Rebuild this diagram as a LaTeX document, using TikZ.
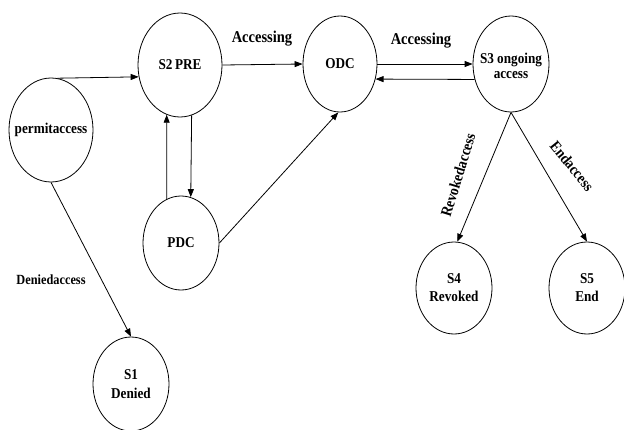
\documentclass[tikz,border=0pt]{standalone}
\usepackage{fontspec}
\setmainfont{Liberation Serif}[FakeStretch=0.88]
\usetikzlibrary{shapes.geometric,arrows.meta}
\begin{document}
\begin{tikzpicture}[x=1pt,y=-1pt,
  state/.style={draw, ellipse, line width=0.8pt, inner sep=0pt},
  statetext/.style={font=\fontsize{15}{15}\selectfont\bfseries, align=center, inner sep=0pt},
  flow/.style={draw, line width=0.8pt, -{Triangle[length=8pt,width=6pt]}},
  lbl/.style={font=\fontsize{16.5}{18}\selectfont\bfseries, inner sep=0pt}]
\useasboundingbox (0,0) rectangle (624,429);

% states
\node[state, minimum width=84, minimum height=104] (perm) at (51,130) {};
\node[state, minimum width=84, minimum height=104] (s2) at (180,65) {};
\node[state, minimum width=74, minimum height=96] (odc) at (340,64) {};
\node[state, minimum width=76, minimum height=96] (s3) at (511,64) {};
\node[state, minimum width=76, minimum height=94] (pdc) at (181,243) {};
\node[state, minimum width=76, minimum height=94] (s1) at (131,384) {};
\node[state, minimum width=76, minimum height=92] (s4) at (454,288) {};
\node[state, minimum width=76, minimum height=92] (s5) at (587,288) {};

% state names
\node[statetext] (perm-t) at (perm) {permitaccess};
\node[statetext] (s2-t) at (s2) {S2\,PRE};
\node[statetext] (odc-t) at (odc) {ODC};
\node[statetext, font=\fontsize{15}{14.5}\selectfont\bfseries] (s3-t) at ([yshift=-2pt]s3.center) {S3 ongoing\\access};
\node[statetext] (pdc-t) at (pdc) {PDC};
\node[statetext, font=\fontsize{15}{19}\selectfont\bfseries] (s1-t) at (s1) {S1\\Denied};
\node[statetext, font=\fontsize{15}{18}\selectfont\bfseries] (s4-t) at (s4) {S4\\Revoked};
\node[statetext, font=\fontsize{15}{18}\selectfont\bfseries] (s5-t) at (s5) {S5\\End};

% transitions
\draw[flow] (perm.83) -- (s2.196);
\draw[flow] (s2.east) -- (odc.west);
\draw[flow] (odc.east) -- (s3.west);
\draw[flow] (s3.203) -- (odc.337);
\draw[flow] (s2.283) -- (pdc.78);
\draw[flow] (pdc.108) -- (s2.255);
\draw[flow] (pdc.east) -- (odc.268);
\draw[flow] (s3.south) -- (s4.86);
\draw[flow] (s3.south) -- (s5.north);
\draw[flow] (perm.south) -- (s1.north);

% transition labels
\node[lbl] (acc1) at (262,39) {Accessing};
\node[lbl] (acc2) at (421,41) {Accessing};
\node[lbl, font=\fontsize{14}{16}\selectfont\bfseries] (den) at (51,279.5) {Deniedaccess};
\node[lbl, font=\fontsize{15.5}{16}\selectfont\bfseries, rotate=73] (rev) at (458,175) {Revokedaccess};
\node[lbl, font=\fontsize{15.5}{16}\selectfont\bfseries, rotate=-51] (endl) at (572,166) {Endaccess};
\end{tikzpicture}
\end{document}
